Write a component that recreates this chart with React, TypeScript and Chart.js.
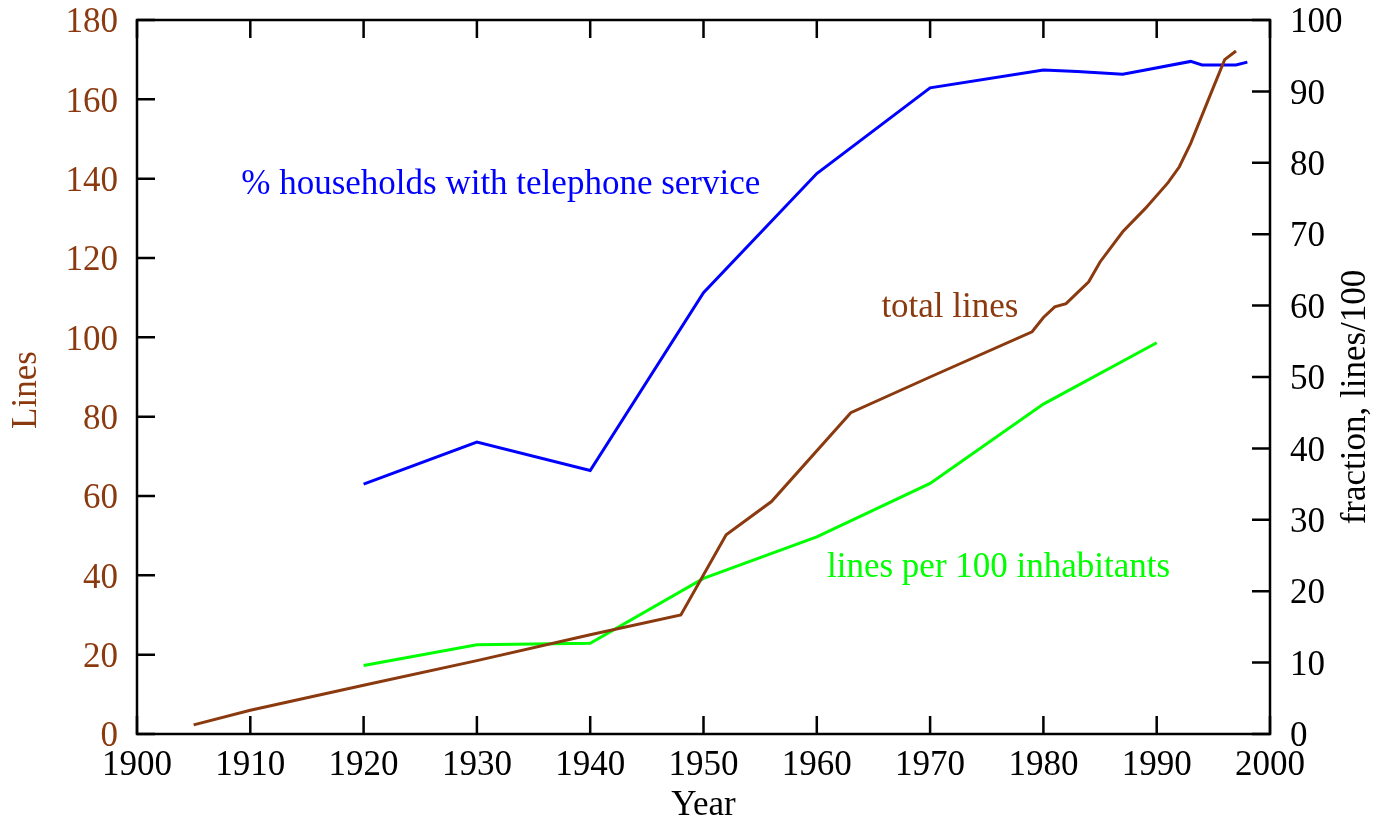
import React, { useEffect, useRef } from "react";
import { Chart, registerables } from "chart.js";

Chart.register(...registerables);

// ---- data ----
const totalYears = [1905, 1910, 1920, 1930, 1940, 1948, 1952, 1956, 1963, 1970, 1979, 1980, 1981, 1982, 1984, 1985, 1987, 1989, 1991, 1992, 1993, 1995, 1996, 1997];
const totalLines = [2.3, 6, 12.3, 18.5, 25, 30, 50.2, 58.6, 81, 90, 101.4, 105, 107.7, 108.5, 114, 119, 126.6, 132.5, 139, 143, 148.9, 163, 170, 172.2];

const householdYears = [1920, 1930, 1940, 1950, 1960, 1970, 1980, 1983, 1987, 1989, 1993, 1994, 1997, 1998];
const householdPct = [35, 40.9, 36.9, 61.8, 78.5, 90.5, 93, 92.8, 92.4, 93, 94.2, 93.7, 93.7, 94.1];

const per100Years = [1920, 1930, 1940, 1950, 1960, 1970, 1980, 1990];
const per100Values = [9.6, 12.5, 12.7, 21.8, 27.6, 35.1, 46.2, 54.8];

const xTicks = [1900, 1910, 1920, 1930, 1940, 1950, 1960, 1970, 1980, 1990, 2000];
const leftTicks = [0, 20, 40, 60, 80, 100, 120, 140, 160, 180];
const rightTicks = [0, 10, 20, 30, 40, 50, 60, 70, 80, 90, 100];

// annotation labels (anchored in data coordinates: year, left-axis value)
const annotations = [
  { text: "% households with telephone service", year: 1909.2, value: 136.1, color: "#0000ff" },
  { text: "total lines", year: 1965.7, value: 105.2, color: "#8b3a0f" },
  { text: "lines per 100 inhabitants", year: 1960.9, value: 39.6, color: "#00ff00" },
];

const BROWN = "#8b3a0f";
const FONT = "'Liberation Serif', 'Times New Roman', serif";
const FS = 35;

const zip = (xs: number[], ys: number[]) => xs.map((x, i) => ({ x, y: ys[i] }));

const zeroPad = (s: any) => {
  s.paddingTop = 0;
  s.paddingBottom = 0;
  s.paddingLeft = 0;
  s.paddingRight = 0;
};

const framePlugin = {
  id: "framePlugin",
  afterDraw(chart: any) {
    const { ctx, chartArea } = chart;
    const { left, right, top, bottom } = chartArea;
    const xs = chart.scales.x;
    const ys = chart.scales.y;
    const y1 = chart.scales.y1;
    const TL = 18;
    ctx.save();
    ctx.strokeStyle = "#000";
    ctx.lineWidth = 2.5;
    ctx.strokeRect(left, top, right - left, bottom - top);
    ctx.beginPath();
    xTicks.forEach((t) => {
      const px = xs.getPixelForValue(t);
      ctx.moveTo(px, bottom);
      ctx.lineTo(px, bottom - TL);
      ctx.moveTo(px, top);
      ctx.lineTo(px, top + TL);
    });
    leftTicks.forEach((t) => {
      const py = ys.getPixelForValue(t);
      ctx.moveTo(left, py);
      ctx.lineTo(left + TL, py);
    });
    rightTicks.forEach((t) => {
      const py = y1.getPixelForValue(t);
      ctx.moveTo(right, py);
      ctx.lineTo(right - TL, py);
    });
    ctx.stroke();

    // annotations
    ctx.font = `${FS}px ${FONT}`;
    ctx.textAlign = "left";
    ctx.textBaseline = "alphabetic";
    annotations.forEach((a) => {
      ctx.fillStyle = a.color;
      ctx.fillText(a.text, xs.getPixelForValue(a.year), ys.getPixelForValue(a.value));
    });

    // axis titles
    ctx.textAlign = "center";
    ctx.textBaseline = "middle";
    ctx.fillStyle = "#000";
    ctx.fillText("Year", (left + right) / 2, 806);

    ctx.save();
    ctx.translate(27, 390);
    ctx.rotate(-Math.PI / 2);
    ctx.fillStyle = BROWN;
    ctx.fillText("Lines", 0, 0);
    ctx.restore();

    ctx.save();
    ctx.translate(1356, 397);
    ctx.rotate(-Math.PI / 2);
    ctx.fillStyle = "#000";
    ctx.fillText("fraction, lines/100", 0, 0);
    ctx.restore();

    ctx.restore();
  },
};

export default function App() {
  const ref = useRef<HTMLCanvasElement | null>(null);

  useEffect(() => {
    document.body.style.margin = "0";
    const canvas = ref.current;
    if (!canvas) return;
    const chart = new Chart(canvas, {
      type: "line",
      data: {
        datasets: [
          {
            label: "total lines",
            data: zip(totalYears, totalLines),
            borderColor: BROWN,
            borderWidth: 3,
            pointRadius: 0,
            yAxisID: "y",
            tension: 0,
          },
          {
            label: "% households with telephone service",
            data: zip(householdYears, householdPct),
            borderColor: "#0000ff",
            borderWidth: 3,
            pointRadius: 0,
            yAxisID: "y1",
            tension: 0,
          },
          {
            label: "lines per 100 inhabitants",
            data: zip(per100Years, per100Values),
            borderColor: "#00ff00",
            borderWidth: 3,
            pointRadius: 0,
            yAxisID: "y1",
            tension: 0,
          },
        ],
      },
      options: {
        responsive: false,
        animation: false,
        events: [],
        layout: { padding: { top: 20, left: 0, right: 0, bottom: 0 } },
        plugins: { legend: { display: false }, tooltip: { enabled: false } },
        scales: {
          x: {
            type: "linear",
            min: 1900,
            max: 2000,
            afterBuildTicks: (s: any) => {
              s.ticks = xTicks.map((v) => ({ value: v }));
            },
            afterFit: (s: any) => {
              s.height = 89;
              zeroPad(s);
            },
            grid: { display: false, drawTicks: false },
            border: { display: false },
            ticks: {
              color: "#000",
              font: { family: FONT, size: FS },
              padding: 11,
              maxRotation: 0,
              autoSkip: false,
              callback: (v: any) => String(v),
            },
          },
          y: {
            type: "linear",
            position: "left",
            min: 0,
            max: 180,
            afterBuildTicks: (s: any) => {
              s.ticks = leftTicks.map((v) => ({ value: v }));
            },
            afterFit: (s: any) => {
              s.width = 137;
              zeroPad(s);
            },
            grid: { display: false, drawTicks: false },
            border: { display: false },
            ticks: {
              color: BROWN,
              font: { family: FONT, size: FS },
              padding: 19,
              labelOffset: 3,
              autoSkip: false,
              callback: (v: any) => String(v),
            },
          },
          y1: {
            type: "linear",
            position: "right",
            min: 0,
            max: 100,
            afterBuildTicks: (s: any) => {
              s.ticks = rightTicks.map((v) => ({ value: v }));
            },
            afterFit: (s: any) => {
              s.width = 107;
              zeroPad(s);
            },
            grid: { display: false, drawTicks: false },
            border: { display: false },
            ticks: {
              color: "#000",
              font: { family: FONT, size: FS },
              padding: 20,
              labelOffset: 3,
              autoSkip: false,
              callback: (v: any) => String(v),
            },
          },
        },
      },
      plugins: [framePlugin],
    } as any);
    return () => chart.destroy();
  }, []);

  return (
    <div style={{ position: "fixed", left: 0, top: 0, width: 1377, height: 823, background: "#fff" }}>
      <canvas ref={ref} width={1377} height={823} />
    </div>
  );
}
